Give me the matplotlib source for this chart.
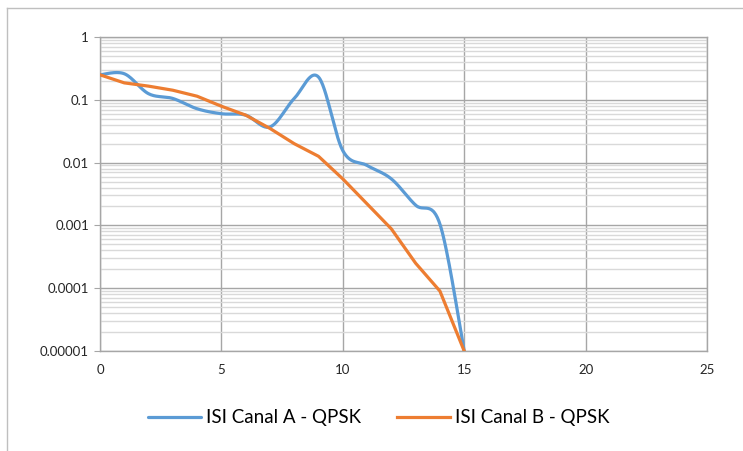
import matplotlib as mpl
mpl.use('agg')
import matplotlib.pyplot as plt
from matplotlib.lines import Line2D
from matplotlib import ticker
import numpy as np

# ISI vs. sample index for the two channels
x = np.arange(16)
isiA = [0.25, 0.26, 0.125, 0.105, 0.072, 0.060, 0.057, 0.037,
        0.105, 0.23, 0.0155, 0.009, 0.0055, 0.0021, 0.00105, 0.00001]
isiB = [0.25, 0.186, 0.165, 0.142, 0.114, 0.079, 0.057, 0.035,
        0.020, 0.0126, 0.0055, 0.0022, 0.00088, 0.00025, 0.00009, 0.00001]
labels = ['ISI Canal A - QPSK', 'ISI Canal B - QPSK']
yticklabels = ['0.00001', '0.0001', '0.001', '0.01', '0.1', '1']

def smoothCurve(xs, ys, n=30):
    # spreadsheet-style smoothing: bezier through points, catmull-rom tangents (log space)
    px = np.asarray(xs, float)
    py = np.log10(np.asarray(ys, float))
    N = len(px)
    outx, outy = [], []
    t = np.linspace(0, 1, n)
    for i in range(N-1):
        i0 = i-1 if i > 0 else i
        i3 = i+2 if i+2 < N else i+1
        c1x = px[i] + (px[i+1]-px[i0])/6.
        c1y = py[i] + (py[i+1]-py[i0])/6.
        c2x = px[i+1] - (px[i3]-px[i])/6.
        c2y = py[i+1] - (py[i3]-py[i])/6.
        bx = (1-t)**3*px[i] + 3*(1-t)**2*t*c1x + 3*(1-t)*t**2*c2x + t**3*px[i+1]
        by = (1-t)**3*py[i] + 3*(1-t)**2*t*c1y + 3*(1-t)*t**2*c2y + t**3*py[i+1]
        outx.extend(bx)
        outy.extend(by)
    return np.array(outx), 10**np.array(outy)

plt.rcParams['font.family'] = ['Lato', 'DejaVu Sans']

fig = plt.figure(figsize=(7.43, 4.51), dpi=100)
ax = fig.add_axes([100/743., 1-351/451., 607/743., 314/451.])

majorc = '#a6a6a6'
minorc = '#d9d9d9'

sx, sy = smoothCurve(x, isiA)
ax.plot(sx, sy, color='#5B9BD5', lw=2.3, label=labels[0], solid_capstyle='round', zorder=3)
ax.plot(x, isiB, color='#ED7D31', lw=2.3, label=labels[1], solid_joinstyle='round', zorder=3)

ax.set_yscale('log')
ax.set_xlim(0, 25)
ax.set_ylim(1e-5, 1)
ax.set_xticks([0, 5, 10, 15, 20, 25])
ax.set_yticks([1e-5, 1e-4, 1e-3, 1e-2, 1e-1, 1])
ax.set_yticklabels(yticklabels)
ax.yaxis.set_minor_locator(ticker.LogLocator(base=10, subs=np.arange(2, 10)))
ax.yaxis.set_minor_formatter(ticker.NullFormatter())

ax.grid(which='major', color=majorc, lw=1.0, zorder=0)
ax.grid(which='minor', axis='y', color=minorc, lw=1.0, zorder=0)
ax.set_axisbelow(True)
for s in ax.spines.values():
    s.set_color(majorc)
    s.set_linewidth(1.0)

ax.tick_params(axis='y', which='major', length=4, color=majorc, labelsize=9.5, pad=4, labelcolor='#262626')
ax.tick_params(axis='y', which='minor', length=0)
ax.tick_params(axis='x', length=0, labelsize=9.5, pad=9, labelcolor='#262626')

ax.legend(loc='center', bbox_to_anchor=(379/743., 1-418/451.), bbox_transform=fig.transFigure,
          ncol=2, frameon=False, fontsize=13.5, handlelength=2.8, columnspacing=1.9, handletextpad=0.3)

# chart area border (left and top edges)
fig.add_artist(Line2D([7.5/743., 7.5/743.], [0, 1-7.5/451.], transform=fig.transFigure, color='#bfbfbf', lw=1))
fig.add_artist(Line2D([7.5/743., 1], [1-7.5/451., 1-7.5/451.], transform=fig.transFigure, color='#bfbfbf', lw=1))

plt.savefig('out.png', dpi=100)
plt.close(fig)
